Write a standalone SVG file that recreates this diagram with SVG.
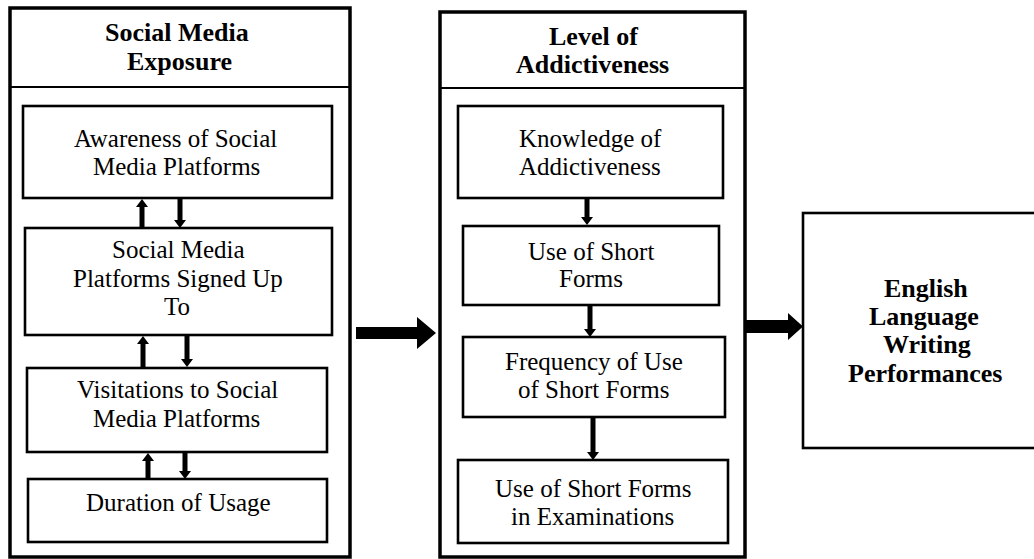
<svg xmlns="http://www.w3.org/2000/svg" width="1034" height="559" viewBox="0 0 1034 559">
<rect width="1034" height="559" fill="#fff"/>
<g id="exposure">
<rect fill="none" stroke="#000" stroke-width="3.5" x="10" y="8" width="340" height="549"/>
<line stroke="#000" stroke-width="2.2" x1="10" y1="87" x2="350" y2="87"/>
<text x="105" y="41" font-family="Liberation Serif" font-size="26" font-weight="bold">Social Media</text>
<text x="127" y="70" font-family="Liberation Serif" font-size="26" font-weight="bold">Exposure</text>
</g>
<g id="awareness">
<rect fill="#fff" stroke="#000" stroke-width="2.6" x="23" y="106" width="309" height="92"/>
<text x="74" y="147" font-family="Liberation Serif" font-size="25">Awareness of Social</text>
<text x="93" y="175" font-family="Liberation Serif" font-size="25">Media Platforms</text>
</g>
<g id="signed">
<rect fill="#fff" stroke="#000" stroke-width="2.6" x="25" y="228" width="307" height="107"/>
<text x="112" y="258" font-family="Liberation Serif" font-size="25">Social Media</text>
<text x="73" y="287" font-family="Liberation Serif" font-size="25">Platforms Signed Up</text>
<text x="164" y="315" font-family="Liberation Serif" font-size="25">To</text>
</g>
<g id="visitations">
<rect fill="#fff" stroke="#000" stroke-width="2.6" x="27" y="368" width="300" height="84"/>
<text x="77" y="398" font-family="Liberation Serif" font-size="25">Visitations to Social</text>
<text x="93" y="427" font-family="Liberation Serif" font-size="25">Media Platforms</text>
</g>
<g id="duration">
<rect fill="#fff" stroke="#000" stroke-width="2.6" x="28" y="479" width="299" height="63"/>
<text x="86" y="511" font-family="Liberation Serif" font-size="25">Duration of Usage</text>
</g>
<g id="addictiveness">
<rect fill="none" stroke="#000" stroke-width="3.5" x="440" y="12" width="305" height="545"/>
<line stroke="#000" stroke-width="2.2" x1="440" y1="88" x2="745" y2="88"/>
<text x="549" y="45" font-family="Liberation Serif" font-size="26" font-weight="bold">Level of</text>
<text x="516" y="73" font-family="Liberation Serif" font-size="26" font-weight="bold">Addictiveness</text>
</g>
<g id="knowledge">
<rect fill="#fff" stroke="#000" stroke-width="2.6" x="458" y="106" width="265" height="92"/>
<text x="519" y="147" font-family="Liberation Serif" font-size="25">Knowledge of</text>
<text x="519" y="175" font-family="Liberation Serif" font-size="25">Addictiveness</text>
</g>
<g id="useshort">
<rect fill="#fff" stroke="#000" stroke-width="2.6" x="463" y="226" width="256" height="79"/>
<text x="528" y="260" font-family="Liberation Serif" font-size="25">Use of Short</text>
<text x="559" y="287" font-family="Liberation Serif" font-size="25">Forms</text>
</g>
<g id="frequency">
<rect fill="#fff" stroke="#000" stroke-width="2.6" x="463" y="337" width="262" height="80"/>
<text x="505" y="370" font-family="Liberation Serif" font-size="25">Frequency of Use</text>
<text x="518" y="398" font-family="Liberation Serif" font-size="25">of Short Forms</text>
</g>
<g id="exams">
<rect fill="#fff" stroke="#000" stroke-width="2.6" x="458" y="460" width="270" height="83"/>
<text x="495" y="497" font-family="Liberation Serif" font-size="25">Use of Short Forms</text>
<text x="511" y="525" font-family="Liberation Serif" font-size="25">in Examinations</text>
</g>
<g id="performance">
<rect fill="#fff" stroke="#000" stroke-width="2.6" x="803" y="213" width="240" height="235"/>
<text x="884" y="297" font-family="Liberation Serif" font-size="26" font-weight="bold">English</text>
<text x="869" y="325" font-family="Liberation Serif" font-size="26" font-weight="bold">Language</text>
<text x="883" y="353" font-family="Liberation Serif" font-size="26" font-weight="bold">Writing</text>
<text x="848" y="382" font-family="Liberation Serif" font-size="26" font-weight="bold">Performances</text>
</g>
<g id="connectors" fill="#000">
<polygon points="139.5,229 144.5,229 144.5,207 148,207 142,199 136,207 139.5,207"/>
<polygon points="177.5,198 182.5,198 182.5,220 186,220 180,228 174,220 177.5,220"/>
<polygon points="140.5,368 145.5,368 145.5,344 149,344 143,336 137,344 140.5,344"/>
<polygon points="184.5,335 189.5,335 189.5,359 193,359 187,367 181,359 184.5,359"/>
<polygon points="145.5,479 150.5,479 150.5,461 154,461 148,453 142,461 145.5,461"/>
<polygon points="182.5,452 187.5,452 187.5,471 191,471 185,479 179,471 182.5,471"/>
<polygon points="584.5,198 589.5,198 589.5,217 593,217 587,225 581,217 584.5,217"/>
<polygon points="587.5,305 592.5,305 592.5,329 596,329 590,337 584,329 587.5,329"/>
<polygon points="590.5,417 595.5,417 595.5,452 599,452 593,460 587,452 590.5,452"/>
<polygon points="356,327 417,327 417,317 436,333 417,349 417,339 356,339"/>
<polygon points="746,320 788,320 788,313 803,326.5 788,340 788,333 746,333"/>
</g>
</svg>
